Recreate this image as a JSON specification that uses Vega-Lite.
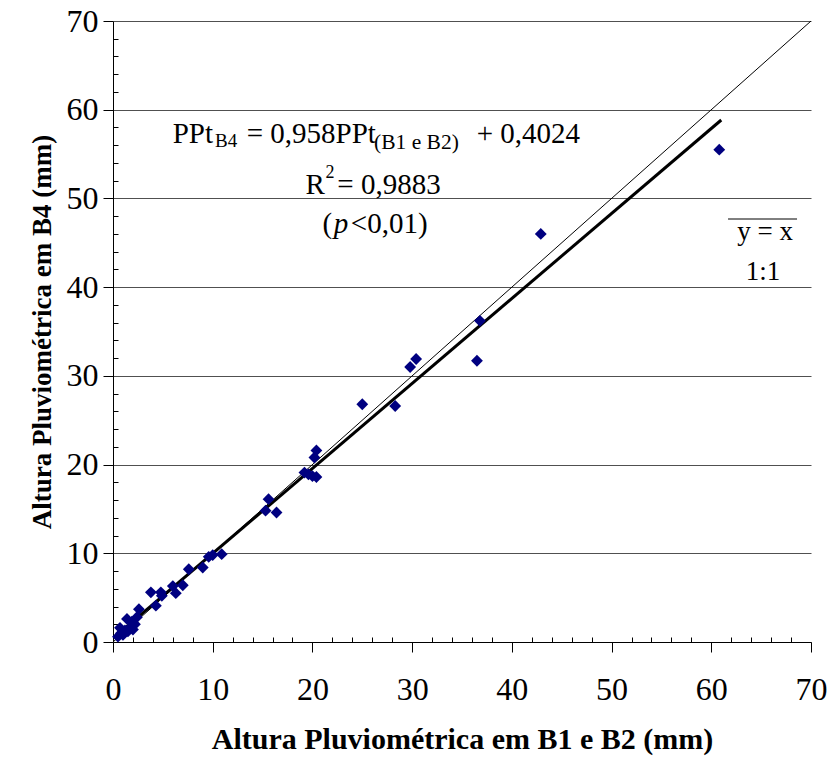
{
  "$schema": "https://vega.github.io/schema/vega-lite/v6.json",
  "width": 698,
  "height": 621,
  "autosize": "none",
  "padding": {"left": 113, "top": 21, "right": 19, "bottom": 115},
  "background": "white",
  "config": {
    "view": {"stroke": null},
    "axis": {
      "labelFont": "Liberation Serif",
      "titleFont": "Liberation Serif",
      "labelColor": "black",
      "titleColor": "black",
      "labelFontSize": 32,
      "titleFontWeight": "bold",
      "domainColor": "black",
      "tickColor": "black",
      "domainWidth": 1,
      "tickWidth": 1
    }
  },
  "datasets": {
    "pts": [
      {"b12": 0.5, "b4": 0.6}, {"b12": 0.8, "b4": 1.0}, {"b12": 1.0, "b4": 0.8},
      {"b12": 1.2, "b4": 1.3}, {"b12": 1.5, "b4": 1.2}, {"b12": 1.7, "b4": 1.6},
      {"b12": 2.0, "b4": 1.4}, {"b12": 1.9, "b4": 2.3}, {"b12": 2.2, "b4": 2.0},
      {"b12": 2.4, "b4": 2.8}, {"b12": 2.6, "b4": 3.7}, {"b12": 1.4, "b4": 2.6},
      {"b12": 0.7, "b4": 1.6}, {"b12": 3.8, "b4": 5.6}, {"b12": 4.3, "b4": 4.1},
      {"b12": 4.9, "b4": 5.2}, {"b12": 4.8, "b4": 5.6}, {"b12": 6.0, "b4": 6.3},
      {"b12": 6.3, "b4": 5.5}, {"b12": 7.0, "b4": 6.4}, {"b12": 7.6, "b4": 8.2},
      {"b12": 9.0, "b4": 8.4}, {"b12": 9.6, "b4": 9.6}, {"b12": 10.0, "b4": 9.8},
      {"b12": 10.9, "b4": 9.9}, {"b12": 15.3, "b4": 14.8}, {"b12": 15.6, "b4": 16.1},
      {"b12": 16.4, "b4": 14.6}, {"b12": 19.2, "b4": 19.1}, {"b12": 19.6, "b4": 18.9},
      {"b12": 20.0, "b4": 18.7}, {"b12": 20.4, "b4": 18.6}, {"b12": 20.2, "b4": 20.8},
      {"b12": 20.4, "b4": 21.6}, {"b12": 25.0, "b4": 26.8}, {"b12": 28.3, "b4": 26.6},
      {"b12": 29.8, "b4": 31.0}, {"b12": 30.4, "b4": 31.9}, {"b12": 36.5, "b4": 31.7},
      {"b12": 36.8, "b4": 36.2}, {"b12": 42.9, "b4": 46.0}, {"b12": 60.8, "b4": 55.5}
    ],
    "fit": [{"b12": 0.5, "b4": 0.88}, {"b12": 61, "b4": 58.84}],
    "one": [{"b12": 0, "b4": 0}, {"b12": 70, "b4": 70}]
  },
  "resolve": {"axis": {"x": "independent", "y": "independent"}},
  "layer": [
    {
      "data": {"name": "one"},
      "mark": {"type": "line", "color": "black", "strokeWidth": 1, "clip": true},
      "encoding": {
        "x": {
          "field": "b12", "type": "quantitative",
          "scale": {"domain": [0, 70], "nice": false, "zero": true},
          "axis": {
            "orient": "bottom", "title": null, "labels": false, "domain": false, "grid": false,
            "values": [2,4,6,8,12,14,16,18,22,24,26,28,32,34,36,38,42,44,46,48,52,54,56,58,62,64,66,68],
            "tickSize": -5
          }
        },
        "y": {
          "field": "b4", "type": "quantitative",
          "scale": {"domain": [0, 70], "nice": false, "zero": true},
          "axis": {
            "orient": "left", "title": null, "labels": false, "domain": false, "grid": false,
            "values": [2,4,6,8,12,14,16,18,22,24,26,28,32,34,36,38,42,44,46,48,52,54,56,58,62,64,66,68],
            "tickSize": -5
          }
        }
      }
    },
    {
      "layer": [
        {
          "data": {"name": "fit"},
          "mark": {"type": "line", "color": "black", "strokeWidth": 3},
          "encoding": {
            "x": {
              "field": "b12", "type": "quantitative",
              "axis": {
                "orient": "bottom",
                "title": "Altura Pluviométrica em B1 e B2 (mm)",
                "titleFontSize": 30,
                "values": [0, 10, 20, 30, 40, 50, 60, 70],
                "tickSize": 10,
                "labelPadding": 22,
                "labelFlush": false,
                "labelOverlap": false,
                "grid": false,
                "titlePadding": 19
              }
            },
            "y": {
              "field": "b4", "type": "quantitative",
              "axis": {
                "orient": "left",
                "title": "Altura Pluviométrica em B4 (mm)",
                "titleFontSize": 27,
                "values": [0, 10, 20, 30, 40, 50, 60, 70],
                "tickSize": 10,
                "labelPadding": 5,
                "labelFlush": false,
                "labelOverlap": false,
                "grid": true,
                "gridColor": "#505050",
                "gridWidth": 1,
                "titlePadding": 10
              }
            }
          }
        },
        {
          "data": {"name": "pts"},
          "mark": {"type": "point", "shape": "diamond", "filled": true, "color": "#000080", "opacity": 1, "size": 140},
          "encoding": {
            "x": {"field": "b12", "type": "quantitative"},
            "y": {"field": "b4", "type": "quantitative"}
          }
        },
        {"data": {"values": [{}]},
         "mark": {"type": "text", "text": "PPt", "font": "Liberation Serif", "fontSize": 29, "align": "left", "baseline": "alphabetic", "color": "black"},
         "encoding": {"x": {"datum": 5.99}, "y": {"datum": 56.25}}},
        {"data": {"values": [{}]},
         "mark": {"type": "text", "text": "B4", "font": "Liberation Serif", "fontSize": 19, "align": "left", "baseline": "alphabetic", "color": "black"},
         "encoding": {"x": {"datum": 10.23}, "y": {"datum": 55.77}}},
        {"data": {"values": [{}]},
         "mark": {"type": "text", "text": "= 0,958PPt", "font": "Liberation Serif", "fontSize": 29, "align": "left", "baseline": "alphabetic", "color": "black"},
         "encoding": {"x": {"datum": 13.41}, "y": {"datum": 56.25}}},
        {"data": {"values": [{}]},
         "mark": {"type": "text", "text": "(B1 e B2)", "font": "Liberation Serif", "fontSize": 21.5, "align": "left", "baseline": "alphabetic", "color": "black"},
         "encoding": {"x": {"datum": 26.18}, "y": {"datum": 55.6}}},
        {"data": {"values": [{}]},
         "mark": {"type": "text", "text": "+ 0,4024", "font": "Liberation Serif", "fontSize": 29, "align": "left", "baseline": "alphabetic", "color": "black"},
         "encoding": {"x": {"datum": 36.48}, "y": {"datum": 56.25}}},
        {"data": {"values": [{}]},
         "mark": {"type": "text", "text": "R", "font": "Liberation Serif", "fontSize": 29, "align": "left", "baseline": "alphabetic", "color": "black"},
         "encoding": {"x": {"datum": 19.3}, "y": {"datum": 50.5}}},
        {"data": {"values": [{}]},
         "mark": {"type": "text", "text": "2", "font": "Liberation Serif", "fontSize": 18, "align": "left", "baseline": "alphabetic", "color": "black"},
         "encoding": {"x": {"datum": 21.3}, "y": {"datum": 52.3}}},
        {"data": {"values": [{}]},
         "mark": {"type": "text", "text": "= 0,9883", "font": "Liberation Serif", "fontSize": 29, "align": "left", "baseline": "alphabetic", "color": "black"},
         "encoding": {"x": {"datum": 22.5}, "y": {"datum": 50.5}}},
        {"data": {"values": [{}]},
         "mark": {"type": "text", "text": "(", "font": "Liberation Serif", "fontSize": 29, "align": "left", "baseline": "alphabetic", "color": "black"},
         "encoding": {"x": {"datum": 21.0}, "y": {"datum": 46.14}}},
        {"data": {"values": [{}]},
         "mark": {"type": "text", "text": "p", "font": "Liberation Serif", "fontSize": 29, "fontStyle": "italic", "align": "left", "baseline": "alphabetic", "color": "black"},
         "encoding": {"x": {"datum": 22.15}, "y": {"datum": 46.14}}},
        {"data": {"values": [{}]},
         "mark": {"type": "text", "text": "<0,01)", "font": "Liberation Serif", "fontSize": 29, "align": "left", "baseline": "alphabetic", "color": "black"},
         "encoding": {"x": {"datum": 23.85}, "y": {"datum": 46.14}}},
        {"data": {"values": [{}]},
         "mark": {"type": "rule", "color": "black", "strokeWidth": 1},
         "encoding": {"x": {"datum": 61.68}, "x2": {"datum": 68.6}, "y": {"datum": 47.68}}},
        {"data": {"values": [{}]},
         "mark": {"type": "text", "text": "y = x", "font": "Liberation Serif", "fontSize": 27, "align": "center", "baseline": "alphabetic", "color": "black"},
         "encoding": {"x": {"datum": 65.39}, "y": {"datum": 45.32}}},
        {"data": {"values": [{}]},
         "mark": {"type": "text", "text": "1:1", "font": "Liberation Serif", "fontSize": 27, "align": "center", "baseline": "alphabetic", "color": "black"},
         "encoding": {"x": {"datum": 65.19}, "y": {"datum": 40.81}}}
      ]
    }
  ]
}
